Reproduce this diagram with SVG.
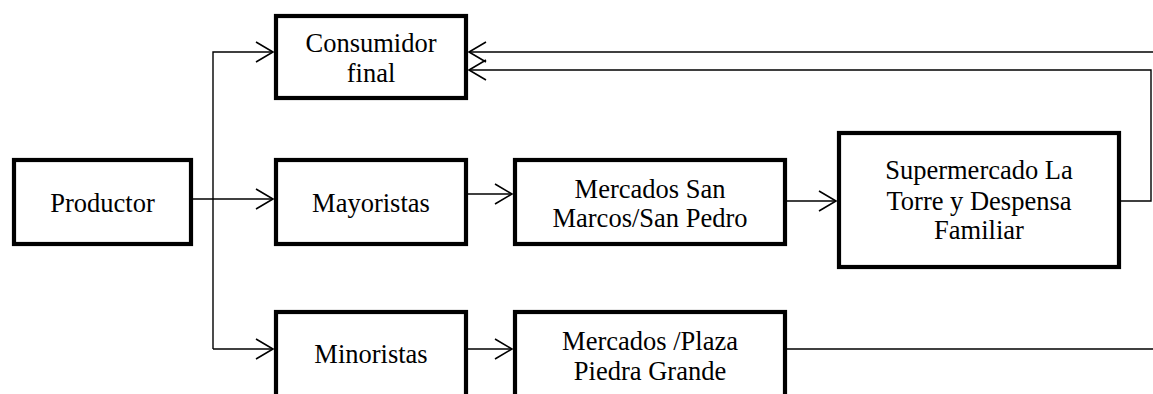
<svg xmlns="http://www.w3.org/2000/svg" width="1153" height="394" viewBox="0 0 1153 394">
<style>
.box{fill:#fff;stroke:#000;stroke-width:4.2}
.t{font-family:"Liberation Serif","Times New Roman",serif;font-size:26.5px;fill:#000;text-anchor:middle}
.c{fill:none;stroke:#000;stroke-width:1.4}
</style>
<defs>
<marker id="arr" markerUnits="userSpaceOnUse" markerWidth="24" markerHeight="26" viewBox="-20 -13 24 26" refX="0" refY="0" orient="auto">
<path d="M-17,-10 L0,0 L-17,10" fill="none" stroke="#000" stroke-width="1.6"/>
</marker>
</defs>
<rect width="1153" height="394" fill="#fff"/>
<g id="connectors">
<path class="c" d="M193,199 H273" marker-end="url(#arr)"/>
<path class="c" d="M213,349 V52 H273" marker-end="url(#arr)"/>
<path class="c" d="M213,349 H273" marker-end="url(#arr)"/>
<path class="c" d="M468,194 H512" marker-end="url(#arr)"/>
<path class="c" d="M787,201 H836" marker-end="url(#arr)"/>
<path class="c" d="M1121,201 H1151 V70 H469" marker-end="url(#arr)"/>
<path class="c" d="M1153,52 H469" marker-end="url(#arr)"/>
<path class="c" d="M468,349 H512" marker-end="url(#arr)"/>
<path class="c" d="M787,349 H1153"/>
</g>
<g id="productor">
<rect class="box" x="14" y="160" width="177" height="84"/>
<text class="t" x="102.5" y="212">Productor</text>
</g>
<g id="consumidor">
<rect class="box" x="276" y="16" width="190" height="82"/>
<text class="t" x="371" y="52">Consumidor</text>
<text class="t" x="371" y="82">final</text>
</g>
<g id="mayoristas">
<rect class="box" x="276" y="160" width="190" height="84"/>
<text class="t" x="371" y="212">Mayoristas</text>
</g>
<g id="minoristas">
<rect class="box" x="276" y="312" width="190" height="100"/>
<text class="t" x="371" y="363">Minoristas</text>
</g>
<g id="mercados-san-marcos">
<rect class="box" x="515" y="160" width="270" height="84"/>
<text class="t" x="650" y="198">Mercados San</text>
<text class="t" x="650" y="227">Marcos/San Pedro</text>
</g>
<g id="mercados-plaza">
<rect class="box" x="515" y="312" width="270" height="100"/>
<text class="t" x="650" y="350">Mercados /Plaza</text>
<text class="t" x="650" y="380">Piedra Grande</text>
</g>
<g id="supermercado">
<rect class="box" x="839" y="133" width="280" height="134"/>
<text class="t" x="979" y="179">Supermercado La</text>
<text class="t" x="979" y="210">Torre y Despensa</text>
<text class="t" x="979" y="239">Familiar</text>
</g>
</svg>
